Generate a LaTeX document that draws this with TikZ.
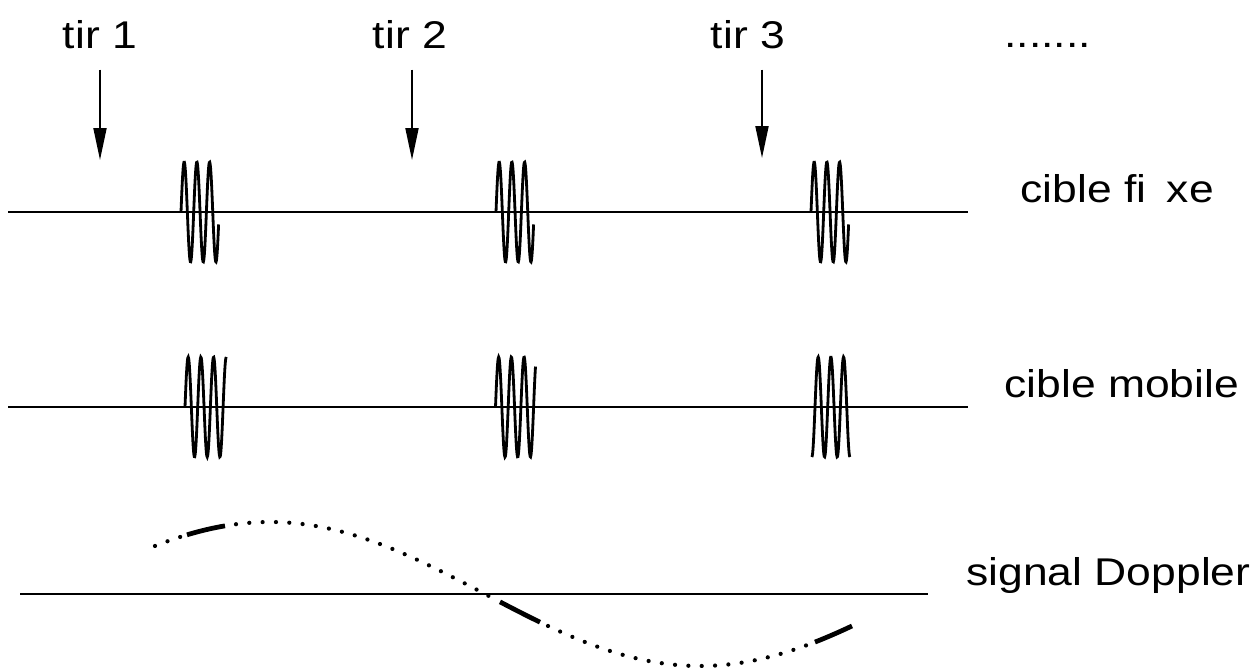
\documentclass[tikz,border=0pt]{standalone}
\usepackage{fontspec}
\setmainfont{Liberation Sans}
\usetikzlibrary{arrows.meta, positioning}

\tikzset{
  lbl/.style={font=\fontsize{22}{26}\selectfont, inner sep=0pt, xscale=1.15, transform shape},
  axis/.style={line width=1pt},
  shot/.style={line width=1.1pt, shorten <=0.4cm, -{Triangle[length=0.64cm, width=0.26cm]}},
  echo/.style={line width=1.6pt, smooth, samples=90},
  sampled/.style={line width=2.7pt},
  dotty/.style={line width=2.4pt, line cap=round, dash pattern=on 0pt off 7.6pt},
}
% x0, axis y, first and last phase (in units of pi)
\newcommand{\packet}[4]{\draw[echo] plot[domain=#3:#4, variable=\t] ({#1+12.7*\t/2}, {#2-50*sin(\t*180)});}
\newcommand{\doppler}[3]{\draw[#1] plot[domain=#2:#3, samples=40] (\x, {594-72*cos((\x-270)*0.4186)});}

\begin{document}
\begin{tikzpicture}[x=0.02cm, y=-0.02cm]
\useasboundingbox (0,0) rectangle (1254,668);

\node[lbl, anchor=base] (tir1) at (100,49) {tir 1};
\node[lbl, anchor=base] (tir2) at (410,49) {tir 2};
\node[lbl, anchor=base] (tir3) at (748,49) {tir 3};
\node[lbl, anchor=base west] (more) at (1004,48) {.......};
\coordinate (hit1) at (100,160);
\coordinate (hit2) at (412,160);
\coordinate (hit3) at (762,158);
\draw[shot] (tir1.south -| hit1) -- (hit1);
\draw[shot] (tir2.south -| hit2) -- (hit2);
\draw[shot] (tir3.south -| hit3) -- (hit3);

\node[lbl, anchor=base west] (fixe) at (1020,203) {cible fi\kern4pt\ xe};
\node[lbl, anchor=base west] (mobile) at (1004,398) {cible mobile};
\node[lbl, anchor=base west] (signal) at (966,585) {signal Doppler};

\draw[axis] (8,212) -- (968,212);
\draw[axis] (8,407) -- (968,407);
\draw[axis] (20,594) -- (928,594);

\packet{181}{212}{0}{5.92}
\packet{496}{212}{0}{5.92}
\packet{811}{212}{0}{5.92}

\packet{185}{407}{0}{6.5}
\packet{495.5}{407}{0}{6.3}
\packet{815}{407}{-0.5}{5.5}

\doppler{dotty}{155}{185}
\doppler{sampled}{187}{225}
\doppler{dotty}{236}{495}
\doppler{sampled}{500}{540}
\doppler{dotty}{548}{810}
\doppler{sampled}{815}{852}
\end{tikzpicture}
\end{document}
